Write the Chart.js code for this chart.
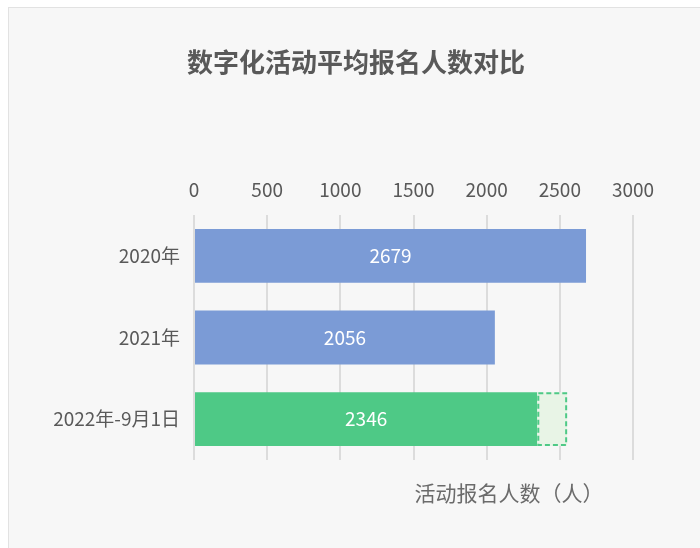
<!DOCTYPE html>
<html>
<head>
<meta charset="utf-8">
<script src="https://cdn.jsdelivr.net/npm/chart.js@4"></script>
<style>
  html, body { margin: 0; padding: 0; background: #fff; overflow: hidden; }
  #panel { position: absolute; left: 8px; top: 7px; width: 700px; height: 548px; background: #f7f7f7; border: 1px solid #e2e2e2; }
  #wrap { position: absolute; left: 0; top: 0; width: 700px; height: 548px; }
</style>
</head>
<body>
<div id="panel"></div>
<div id="wrap"><canvas id="chart" width="700" height="548"></canvas></div>
<script>
  const categories = ['2020年', '2021年', '2022年-9月1日'];
  const signups = [2679, 2056, 2346];
  const projected = [null, null, [2346, 2550]];
  const xTicks = [0, 500, 1000, 1500, 2000, 2500, 3000];

  const chartTitle = '数字化活动平均报名人数对比';
  const axisTitle = '活动报名人数（人）';
  const fontFamily = "'Noto Sans CJK SC', 'Noto Sans', sans-serif";

  const labelPlugin = {
    id: 'labels',
    beforeDraw(chart) {
      const ctx = chart.ctx;
      ctx.save();
      ctx.fillStyle = '#595959';
      ctx.font = 'bold 26px ' + fontFamily;
      ctx.textAlign = 'center';
      ctx.textBaseline = 'middle';
      ctx.fillText(chartTitle, 356, 62);
      ctx.font = '21px ' + fontFamily;
      ctx.fillStyle = '#6b6b6b';
      ctx.fillText(axisTitle, 509, 493);
      ctx.restore();
    },
    afterDatasetsDraw(chart) {
      const ctx = chart.ctx;
      ctx.save();
      // dashed outline for the projected part
      chart.getDatasetMeta(1).data.forEach((bar, i) => {
        if (projected[i] == null) return;
        const left = Math.min(bar.x, bar.base), right = Math.max(bar.x, bar.base);
        const top = bar.y - bar.height / 2;
        ctx.strokeStyle = '#4ec986';
        ctx.lineWidth = 2;
        ctx.setLineDash([5, 3]);
        ctx.strokeRect(left + 1, top + 1, right - left - 2, bar.height - 2);
      });
      ctx.setLineDash([]);
      ctx.fillStyle = '#ffffff';
      ctx.font = '19px ' + fontFamily;
      ctx.textAlign = 'center';
      ctx.textBaseline = 'middle';
      chart.getDatasetMeta(0).data.forEach((bar, i) => {
        ctx.fillText(signups[i], (bar.x + bar.base) / 2, bar.y);
      });
      ctx.restore();
    }
  };

  new Chart(document.getElementById('chart'), {
    type: 'bar',
    data: {
      labels: categories,
      datasets: [
        {
          data: signups,
          backgroundColor: ['#7b9bd6', '#7b9bd6', '#4ec986'],
          categoryPercentage: 1,
          barPercentage: 0.66,
          order: 2
        },
        {
          data: projected,
          backgroundColor: '#e8f4e6',
          borderWidth: 0,
          grouped: false,
          categoryPercentage: 1,
          barPercentage: 0.66,
          order: 1
        }
      ]
    },
    options: {
      indexAxis: 'y',
      responsive: false,
      animation: false,
      layout: { padding: { top: 0, left: 0, right: 67, bottom: 88 } },
      plugins: {
        legend: { display: false },
        title: { display: false },
        tooltip: { enabled: false }
      },
      scales: {
        x: {
          position: 'top',
          min: 0,
          max: 3000,
          afterBuildTicks(scale) { scale.ticks = xTicks.map(v => ({ value: v })); },
          afterFit(scale) { scale.height = 215; },
          grid: { color: '#dcdcdc', lineWidth: 2, drawTicks: false },
          border: { display: false },
          ticks: {
            color: '#595959',
            font: { size: 19, family: fontFamily },
            padding: 14,
            callback: v => String(v)
          }
        },
        y: {
          afterFit(scale) { scale.width = 194; },
          grid: { display: false },
          border: { display: false },
          ticks: { color: '#595959', font: { size: 19, family: fontFamily }, padding: 6 }
        }
      }
    },
    plugins: [labelPlugin]
  });
</script>
</body>
</html>
